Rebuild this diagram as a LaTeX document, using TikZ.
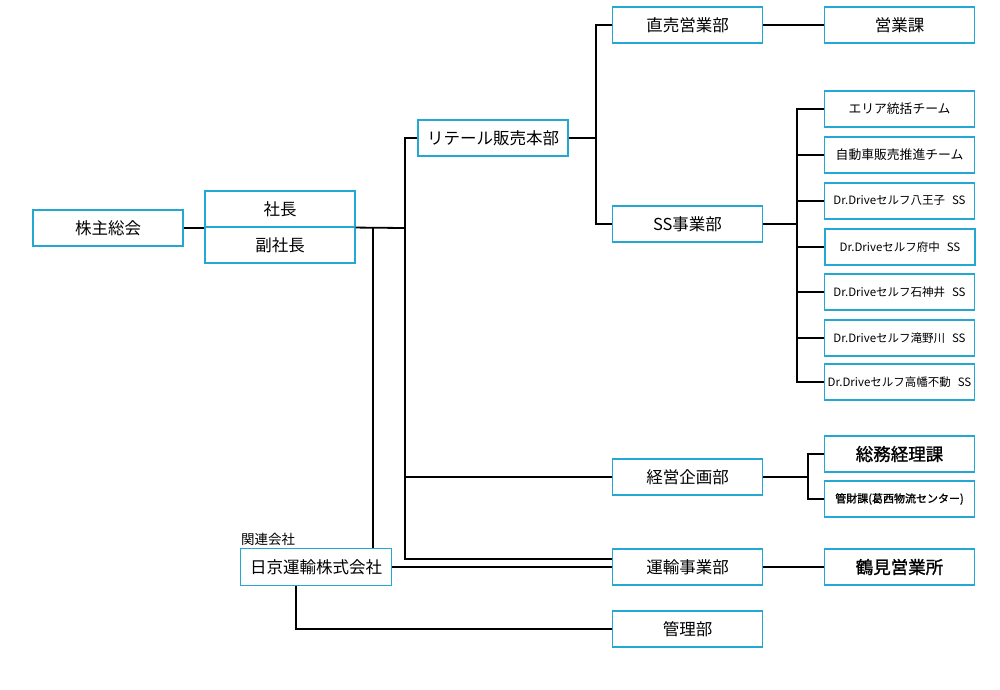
\documentclass[tikz,border=0pt]{standalone}
\usepackage{fontspec}
\setmainfont{Noto Sans CJK JP}
\newfontfamily\medfont[FakeBold=1.2]{Noto Sans CJK JP}
\definecolor{boxc}{RGB}{35,168,212}
\tikzset{
  box/.style={draw=boxc, line width=1.1pt, fill=white, minimum width=150pt, minimum height=36pt, inner sep=0pt, font=\fontsize{16.5}{18}\selectfont},
  sbox/.style={box, font=\fontsize{11.5}{13}\selectfont},
  kbox/.style={box, font=\fontsize{12.8}{14}\selectfont},
  tbox/.style={box, font=\medfont\fontsize{11}{12}\selectfont},
  bbox/.style={box, font=\medfont\fontsize{17.5}{19}\selectfont},
  conn/.style={draw=black, line width=1.8pt},
}
\begin{document}
\begin{tikzpicture}[x=1pt,y=-1pt]
\useasboundingbox (0,0) rectangle (1000,689);
% nodes
\node[box] (kabu) at (108,228) {株主総会};
\node[box] (shacho) at (280,209) {社長};
\node[box] (fuku) at (280,245) {副社長};
\node[box] (retail) at (493,138) {リテール販売本部};
\node[box] (chokubai) at (687.5,25) {直売営業部};
\node[box] (eigyo) at (899.5,25) {営業課};
\node[box] (ss) at (687.5,224) {SS事業部};
\node[kbox] (s1) at (899.5,109) {エリア統括チーム};
\node[kbox] (s2) at (899.5,155) {自動車販売推進チーム};
\node[sbox] (s3) at (899.5,201) {Dr.Driveセルフ八王子\hspace{0.6em}SS};
\node[sbox] (s4) at (900,247) {Dr.Driveセルフ府中\hspace{0.6em}SS};
\node[sbox] (s5) at (899.5,292) {Dr.Driveセルフ石神井\hspace{0.6em}SS};
\node[sbox] (s6) at (899.5,338) {Dr.Driveセルフ滝野川\hspace{0.6em}SS};
\node[sbox] (s7) at (899.5,382) {Dr.Driveセルフ高幡不動\hspace{0.6em}SS};
\node[box] (keiei) at (687.5,477) {経営企画部};
\node[bbox] (somu) at (899.5,454) {総務経理課};
\node[tbox] (kanzai) at (899.5,499) {管財課(葛西物流センター)};
\node[box] (unyu) at (687.5,567) {運輸事業部};
\node[bbox] (tsurumi) at (899.5,567) {鶴見営業所};
\node[box, minimum width=151pt, minimum height=37pt] (nikkyo) at (316,567) {日京運輸株式会社};
\node[anchor=south west, inner sep=0pt, font=\fontsize{13.5}{15}\selectfont] (kanren) at (241,546) {関連会社};
\node[box] (kanri) at (687.5,629) {管理部};
% junction coordinates
\coordinate (j1) at (405,228);
\coordinate (j2) at (373,228);
\coordinate (busBot) at (405,559);
\coordinate (unyuIn) at (612,559);
\coordinate (rj) at (596,138);
\coordinate (sbus) at (797,224);
\coordinate (kbus) at (808,477);
\coordinate (nk) at (296,630);
% connectors
\draw[conn] (kabu.east) -- (kabu.east -| shacho.west);
\draw[conn] (shacho.south east) -- (j1);
\draw[conn] (retail.west) -| (busBot) -- (unyuIn);
\draw[conn] (keiei.west) -- (keiei.west -| j1);
\draw[conn] (j2) -- (nikkyo.north -| j2);
\draw[conn] (nikkyo.east) -- (nikkyo.east -| unyu.west);
\draw[conn] (nikkyo.south -| nk) |- (kanri.west);
\draw[conn] (retail.east) -- (rj);
\draw[conn] (chokubai.west) -| (rj) |- (ss.west);
\draw[conn] (chokubai.east) -- (eigyo.west);
\draw[conn] (ss.east) -- (sbus);
\draw[conn] (s1.west) -| (s7.west -| sbus) -- (s7.west);
\draw[conn] (s2.west) -- (s2.west -| sbus);
\draw[conn] (s3.west) -- (s3.west -| sbus);
\draw[conn] (s4.west) -- (s4.west -| sbus);
\draw[conn] (s5.west) -- (s5.west -| sbus);
\draw[conn] (s6.west) -- (s6.west -| sbus);
\draw[conn] (keiei.east) -- (kbus);
\draw[conn] (somu.west) -| (kbus) |- (kanzai.west);
\draw[conn] (unyu.east) -- (tsurumi.west);
\end{tikzpicture}
\end{document}
